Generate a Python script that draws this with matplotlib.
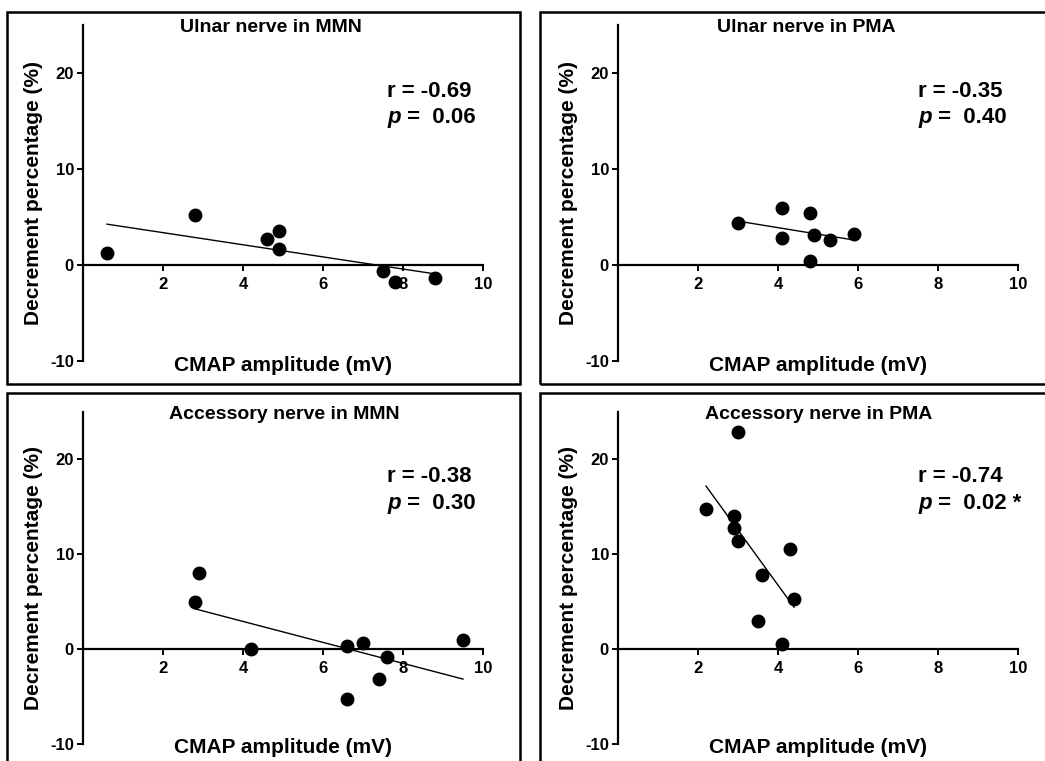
import numpy as np
import matplotlib
matplotlib.use("Agg")
import matplotlib.pyplot as plt
from matplotlib.patches import Rectangle

plt.rcParams['font.family'] = ['Liberation Sans', 'DejaVu Sans']
plt.rcParams['font.weight'] = 'bold'
plt.rcParams['axes.unicode_minus'] = False

# ---- data ----
titles = ["Ulnar nerve in MMN", "Ulnar nerve in PMA",
          "Accessory nerve in MMN", "Accessory nerve in PMA"]

ulnar_mmn_x = [0.6, 2.8, 4.6, 4.9, 4.9, 7.5, 7.8, 8.8]
ulnar_mmn_y = [1.3, 5.2, 2.7, 3.5, 1.7, -0.6, -1.8, -1.4]

ulnar_pma_x = [3.0, 4.1, 4.1, 4.8, 4.9, 5.3, 5.9, 4.8]
ulnar_pma_y = [4.4, 5.9, 2.8, 5.4, 3.1, 2.6, 3.2, 0.4]

acc_mmn_x = [2.9, 2.8, 4.2, 6.6, 7.0, 7.6, 7.4, 6.6, 9.5]
acc_mmn_y = [8.0, 5.0, 0.0, 0.3, 0.6, -0.8, -3.2, -5.3, 1.0]

acc_pma_x = [3.0, 2.2, 2.9, 2.9, 3.0, 4.3, 3.6, 4.4, 3.5, 4.1]
acc_pma_y = [22.8, 14.7, 14.0, 12.7, 11.4, 10.5, 7.8, 5.3, 2.9, 0.5]

r_values = ["-0.69", "-0.35", "-0.38", "-0.74"]
p_values = ["0.06", "0.40", "0.30", "0.02 *"]

xticks = [2, 4, 6, 8, 10]
yticks = [-10, 0, 10, 20]
xlabel = "CMAP amplitude (mV)"
ylabel = "Decrement percentage (%)"

datasets = [(ulnar_mmn_x, ulnar_mmn_y), (ulnar_pma_x, ulnar_pma_y),
            (acc_mmn_x, acc_mmn_y), (acc_pma_x, acc_pma_y)]

W, H = 1045, 761
fig = plt.figure(figsize=(W / 100, H / 100), dpi=100)

# axes rectangles in pixels: left, top, right, bottom
ax_px = [(83, 25, 483, 361), (618, 25, 1018, 361),
         (83, 411.5, 483, 744), (618, 411.5, 1018, 744)]
title_x = [0.47, 0.47, 0.504, 0.501]
title_y = [0.979, 0.979, 0.977, 0.977]
xlab_y = [-0.030, -0.030, -0.027, -0.027]
# panel boxes (pixels): left, top, right, bottom
box_px = [(7, 12, 520, 384), (540, 12, 1060, 384),
          (7, 393, 520, 790), (540, 393, 1060, 790)]

for (l, t, r, b) in box_px:
    fig.add_artist(Rectangle((l / W, 1 - b / H), (r - l) / W, (b - t) / H,
                             transform=fig.transFigure, fill=False,
                             edgecolor='black', linewidth=1.8, clip_on=False))

for i, (x, y) in enumerate(datasets):
    l, t, r, b = ax_px[i]
    ax = fig.add_axes([l / W, 1 - b / H, (r - l) / W, (b - t) / H])
    ax.set_facecolor('none')
    ax.set_xlim(0, 10)
    ax.set_ylim(-10, 25)
    for s in ['top', 'right']:
        ax.spines[s].set_visible(False)
    ax.spines['bottom'].set_position(('data', 0))
    ax.spines['left'].set_linewidth(1.6)
    ax.spines['bottom'].set_linewidth(1.6)
    ax.set_xticks(xticks)
    ax.set_yticks(yticks)
    ax.tick_params(axis='both', length=4.5, width=1.4, labelsize=12)
    ax.tick_params(axis='x', pad=4)
    ax.tick_params(axis='y', pad=2)
    for lab in ax.get_xticklabels() + ax.get_yticklabels():
        lab.set_fontweight('bold')

    xa = np.array(x)
    ya = np.array(y)
    slope, icpt = np.polyfit(xa, ya, 1)
    xl = np.array([xa.min(), xa.max()])
    ax.plot(xl, slope * xl + icpt, color='black', linewidth=1.0, zorder=2)
    ax.plot(xa, ya, 'o', color='black', markersize=9, zorder=3, clip_on=False)

    ax.text(title_x[i], title_y[i], titles[i], transform=ax.transAxes,
            ha='center', va='baseline', fontsize=14, fontweight='bold')
    ax.text(0.5, xlab_y[i], xlabel, transform=ax.transAxes, ha='center',
            va='baseline', fontsize=15, fontweight='bold')
    ax.text(-0.1225, 0.5, ylabel, transform=ax.transAxes, ha='center',
            va='center', rotation=90, fontsize=15, fontweight='bold')

    tx = 7.6 if i in (0, 2) else 7.5
    ax.text(tx, 17.55, "r = " + r_values[i], ha='left', va='baseline',
            fontsize=16, fontweight='bold')
    ptxt = ax.text(tx, 14.75, "p", ha='left', va='baseline', fontsize=16,
                   fontweight='bold', style='italic')
    ax.annotate(" =  " + p_values[i], xy=(1, 0), xycoords=ptxt,
                xytext=(0, 0), textcoords='offset points', ha='left',
                va='bottom', fontsize=16, fontweight='bold')

fig.savefig("out.png", dpi=100)
